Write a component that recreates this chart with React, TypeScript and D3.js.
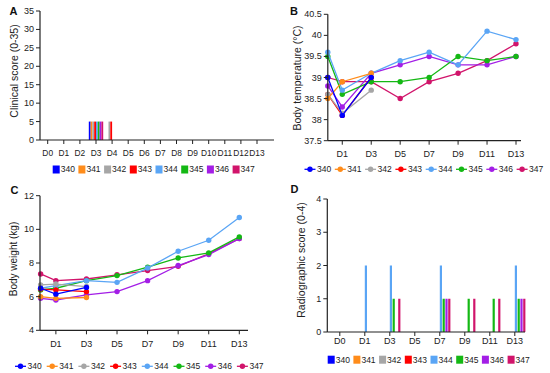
import * as d3 from "d3";

const animals = ["340", "341", "342", "343", "344", "345", "346", "347"];
const colors = ["#0000ff", "#ff8c1a", "#a6a6a6", "#ff0000", "#5aa5f5", "#14b814", "#a31ee6", "#d1146b"];

// Panel A: clinical score
const clinicalDays = ["D0", "D1", "D2", "D3", "D4", "D5", "D6", "D7", "D8", "D9", "D10", "D11", "D12", "D13"];
const clinicalScores: number[][] = [
  [0, 0, 0, 5, 0, 0, 0, 0, 0, 0, 0, 0, 0, 0],
  [0, 0, 0, 5, 0, 0, 0, 0, 0, 0, 0, 0, 0, 0],
  [0, 0, 0, 5, 5, 0, 0, 0, 0, 0, 0, 0, 0, 0],
  [0, 0, 0, 5, 5, 0, 0, 0, 0, 0, 0, 0, 0, 0],
  [0, 0, 0, 5, 0, 0, 0, 0, 0, 0, 0, 0, 0, 0],
  [0, 0, 0, 5, 0, 0, 0, 0, 0, 0, 0, 0, 0, 0],
  [0, 0, 0, 5, 0, 0, 0, 0, 0, 0, 0, 0, 0, 0],
  [0, 0, 0, 5, 0, 0, 0, 0, 0, 0, 0, 0, 0, 0],
];
const clinicalTicks = [0, 5, 10, 15, 20, 25, 30, 35];

// Panels B & C: measurement days
const measureDays = [0, 1, 3, 5, 7, 9, 11, 13];
const dayTicks = [1, 3, 5, 7, 9, 11, 13];

const temperature: number[][] = [
  [39.0, 38.1, 39.0],
  [38.5, 38.9, 39.1],
  [38.6, 38.15, 38.7],
  [38.6, 38.1, 39.0],
  [39.6, 38.7, 39.1, 39.4, 39.6, 39.3, 40.1, 39.9],
  [39.5, 38.6, 38.9, 38.9, 39.0, 39.5, 39.4, 39.5],
  [38.8, 38.3, 39.1, 39.3, 39.5, 39.3, 39.3, 39.5],
  [39.0, 38.9, 38.9, 38.5, 38.9, 39.1, 39.4, 39.8],
];
const tempTicks = [37.5, 38, 38.5, 39, 39.5, 40, 40.5];

const weight: number[][] = [
  [6.5, 6.15, 6.55],
  [6.0, 5.9, 5.95],
  [6.7, 6.75, 6.6],
  [6.45, 6.4, 6.3],
  [6.5, 6.65, 6.95, 6.85, 7.7, 8.7, 9.35, 10.7],
  [6.4, 6.5, 6.95, 7.25, 7.75, 8.3, 8.6, 9.55],
  [5.9, 5.8, 6.1, 6.3, 6.95, 7.85, 8.5, 9.45],
  [7.35, 6.95, 7.05, 7.3, 7.55, 7.8, 8.55, 9.45],
];
const weightTicks = [4, 6, 8, 10, 12];

// Panel D: radiographic score
const radioDays = ["D0", "D1", "D3", "D5", "D7", "D9", "D11", "D13"];
const radioScores: number[][] = [
  [0, 0, 0, 0, 0, 0, 0, 0],
  [0, 0, 0, 0, 0, 0, 0, 0],
  [0, 0, 0, 0, 0, 0, 0, 0],
  [0, 0, 0, 0, 0, 0, 0, 0],
  [0, 2, 2, 0, 2, 0, 0, 2],
  [0, 0, 1, 0, 1, 1, 1, 1],
  [0, 0, 0, 0, 1, 0, 0, 1],
  [0, 0, 1, 0, 1, 1, 1, 1],
];
const radioTicks = [0, 1, 2, 3, 4];

const FONT = "Liberation Sans, Arial, sans-serif";
const AX = "#222";

function YAxis({ x, y, ticks }: { x: number; y: d3.ScaleLinear<number, number>; ticks: number[] }) {
  const r = y.range();
  return (
    <g>
      <line x1={x} x2={x} y1={r[0]} y2={r[1]} stroke={AX} strokeWidth={1.2} />
      {ticks.map((t) => (
        <g key={t}>
          <line x1={x - 4} x2={x} y1={y(t)} y2={y(t)} stroke={AX} strokeWidth={1} />
          <text x={x - 6} y={y(t)} dy="0.34em" textAnchor="end" fontSize={9} fontFamily={FONT} fill="#222">
            {t}
          </text>
        </g>
      ))}
    </g>
  );
}

function XAxis({ y, x0, x1, ticks, labelDy, size = 9 }: { y: number; x0: number; x1: number; ticks: { pos: number; label: string }[]; labelDy: number; size?: number }) {
  return (
    <g>
      <line x1={x0} x2={x1} y1={y} y2={y} stroke={AX} strokeWidth={1.2} />
      {ticks.map((t) => (
        <g key={t.label}>
          <line x1={t.pos} x2={t.pos} y1={y} y2={y + 4} stroke={AX} strokeWidth={1} />
          <text x={t.pos} y={y + labelDy} dy="0.34em" textAnchor="middle" fontSize={size} fontFamily={FONT} fill="#222">
            {t.label}
          </text>
        </g>
      ))}
    </g>
  );
}

function YTitle({ x, yMid, text, size }: { x: number; yMid: number; text: string; size: number }) {
  return (
    <text transform={`translate(${x},${yMid}) rotate(-90)`} textAnchor="middle" dy="0.35em" fontSize={size} fontFamily={FONT} fill="#222">
      {text}
    </text>
  );
}

function SquareLegend({ x, y, step }: { x: number; y: number; step: number }) {
  return (
    <g>
      {animals.map((a, i) => (
        <g key={a} transform={`translate(${x + i * step},${y})`}>
          <rect x={0} y={-4} width={7} height={8} fill={colors[i]} />
          <text x={8} y={0} dy="0.34em" fontSize={8.5} fontFamily={FONT} fill="#222">{a}</text>
        </g>
      ))}
    </g>
  );
}

function LineLegend({ x, y, step }: { x: number; y: number; step: number }) {
  return (
    <g>
      {animals.map((a, i) => (
        <g key={a} transform={`translate(${x + i * step},${y})`}>
          <line x1={0} x2={11} y1={0} y2={0} stroke={colors[i]} strokeWidth={1.3} />
          <circle cx={5.5} cy={0} r={2.7} fill={colors[i]} />
          <text x={12.5} y={0} dy="0.34em" fontSize={8.5} fontFamily={FONT} fill="#222">{a}</text>
        </g>
      ))}
    </g>
  );
}

function PanelLabel({ x, y, t }: { x: number; y: number; t: string }) {
  return (
    <text x={x} y={y} fontSize={11} fontWeight="bold" fontFamily={FONT} fill="#111">{t}</text>
  );
}

function GroupedBars({ cats, x, y, data, half, barW }: { cats: string[]; x: (c: string) => number | undefined; y: d3.ScaleLinear<number, number>; data: number[][]; half: number; barW: number }) {
  const inner = d3.scaleBand<string>().domain(animals).range([-half, half]);
  return (
    <g>
      {cats.map((c, ci) =>
        animals.map((a, ai) => {
          const v = data[ai][ci];
          if (!v) return null;
          const bx = (x(c) ?? 0) + (inner(a) ?? 0);
          return <rect key={c + a} x={bx} width={barW} y={y(v)} height={y(0) - y(v)} fill={colors[ai]} />;
        })
      )}
    </g>
  );
}

function LineSeries({ x, y, data }: { x: d3.ScaleLinear<number, number>; y: d3.ScaleLinear<number, number>; data: number[][] }) {
  const line = d3.line<number>().x((_, i) => x(measureDays[i])).y((v) => y(v));
  const order = animals.map((_, i) => i).reverse();
  return (
    <g>
      {order.map((ai) => (
        <g key={animals[ai]}>
          <path d={line(data[ai]) ?? ""} fill="none" stroke={colors[ai]} strokeWidth={1.3} />
          {data[ai].map((v, i) => (
            <circle key={i} cx={x(measureDays[i])} cy={y(v)} r={2.7} fill={colors[ai]} />
          ))}
        </g>
      ))}
    </g>
  );
}

export default function App() {
  // Panel A
  const ax = d3.scalePoint<string>().domain(clinicalDays).range([47.7, 257]);
  const ay = d3.scaleLinear().domain([0, 35]).range([140, 11]);

  // Panel B
  const bx = d3.scaleLinear().domain([0, 13]).range([327.8, 516]);
  const by = d3.scaleLinear().domain([37.5, 40.5]).range([140.7, 14.3]);

  // Panel C
  const cx = d3.scaleLinear().domain([0, 13]).range([40.6, 239.3]);
  const cy = d3.scaleLinear().domain([4, 12]).range([330.3, 195.7]);

  // Panel D
  const dx = d3.scaleBand<string>().domain(radioDays).range([327.3, 527.3]);
  const dxc = (c: string) => (dx(c) ?? 0) + dx.bandwidth() / 2;
  const dy = d3.scaleLinear().domain([0, 4]).range([332, 199]);

  return (
    <svg width={550} height={373} style={{ position: "absolute", left: 0, top: 0, background: "#fff" }}>
      <rect width={550} height={373} fill="#fff" />

      {/* A */}
      <PanelLabel x={9.5} y={15} t="A" />
      <GroupedBars cats={clinicalDays} x={ax} y={ay} data={clinicalScores} half={7.2} barW={1.8} />
      <YAxis x={40} y={ay} ticks={clinicalTicks} />
      <XAxis y={140} x0={40} x1={274} ticks={clinicalDays.map((d) => ({ pos: ax(d) ?? 0, label: d }))} labelDy={13.5} size={8.4} />
      <YTitle x={14} yMid={71} text="Clinical score (0-35)" size={10.5} />
      <SquareLegend x={52.7} y={169.5} step={25.7} />

      {/* B */}
      <PanelLabel x={290} y={14.5} t="B" />
      <LineSeries x={bx} y={by} data={temperature} />
      <YAxis x={327.8} y={by} ticks={tempTicks} />
      <XAxis y={140.7} x0={327.8} x1={521} ticks={dayTicks.map((d) => ({ pos: bx(d), label: `D${d}` }))} labelDy={12.8} />
      <YTitle x={297} yMid={78} text="Body temperature (°C)" size={10.5} />
      <LineLegend x={304.5} y={169.3} step={30.3} />

      {/* C */}
      <PanelLabel x={10.5} y={194} t="C" />
      <LineSeries x={cx} y={cy} data={weight} />
      <YAxis x={40} y={cy} ticks={weightTicks} />
      <XAxis y={330.3} x0={40} x1={248} ticks={dayTicks.map((d) => ({ pos: cx(d), label: `D${d}` }))} labelDy={13.4} />
      <YTitle x={13.5} yMid={259} text="Body weight (kg)" size={10} />
      <LineLegend x={15} y={366.3} step={31.7} />

      {/* D */}
      <PanelLabel x={290.5} y={193} t="D" />
      <GroupedBars cats={radioDays} x={dxc} y={dy} data={radioScores} half={11.2} barW={2.2} />
      <YAxis x={327.3} y={dy} ticks={radioTicks} />
      <XAxis y={332} x0={327.3} x1={525} ticks={radioDays.map((d) => ({ pos: dxc(d), label: d }))} labelDy={8.5} />
      <YTitle x={301.5} yMid={260} text="Radiographic score (0-4)" size={10.5} />
      <SquareLegend x={327.7} y={359.7} step={25.7} />
    </svg>
  );
}
